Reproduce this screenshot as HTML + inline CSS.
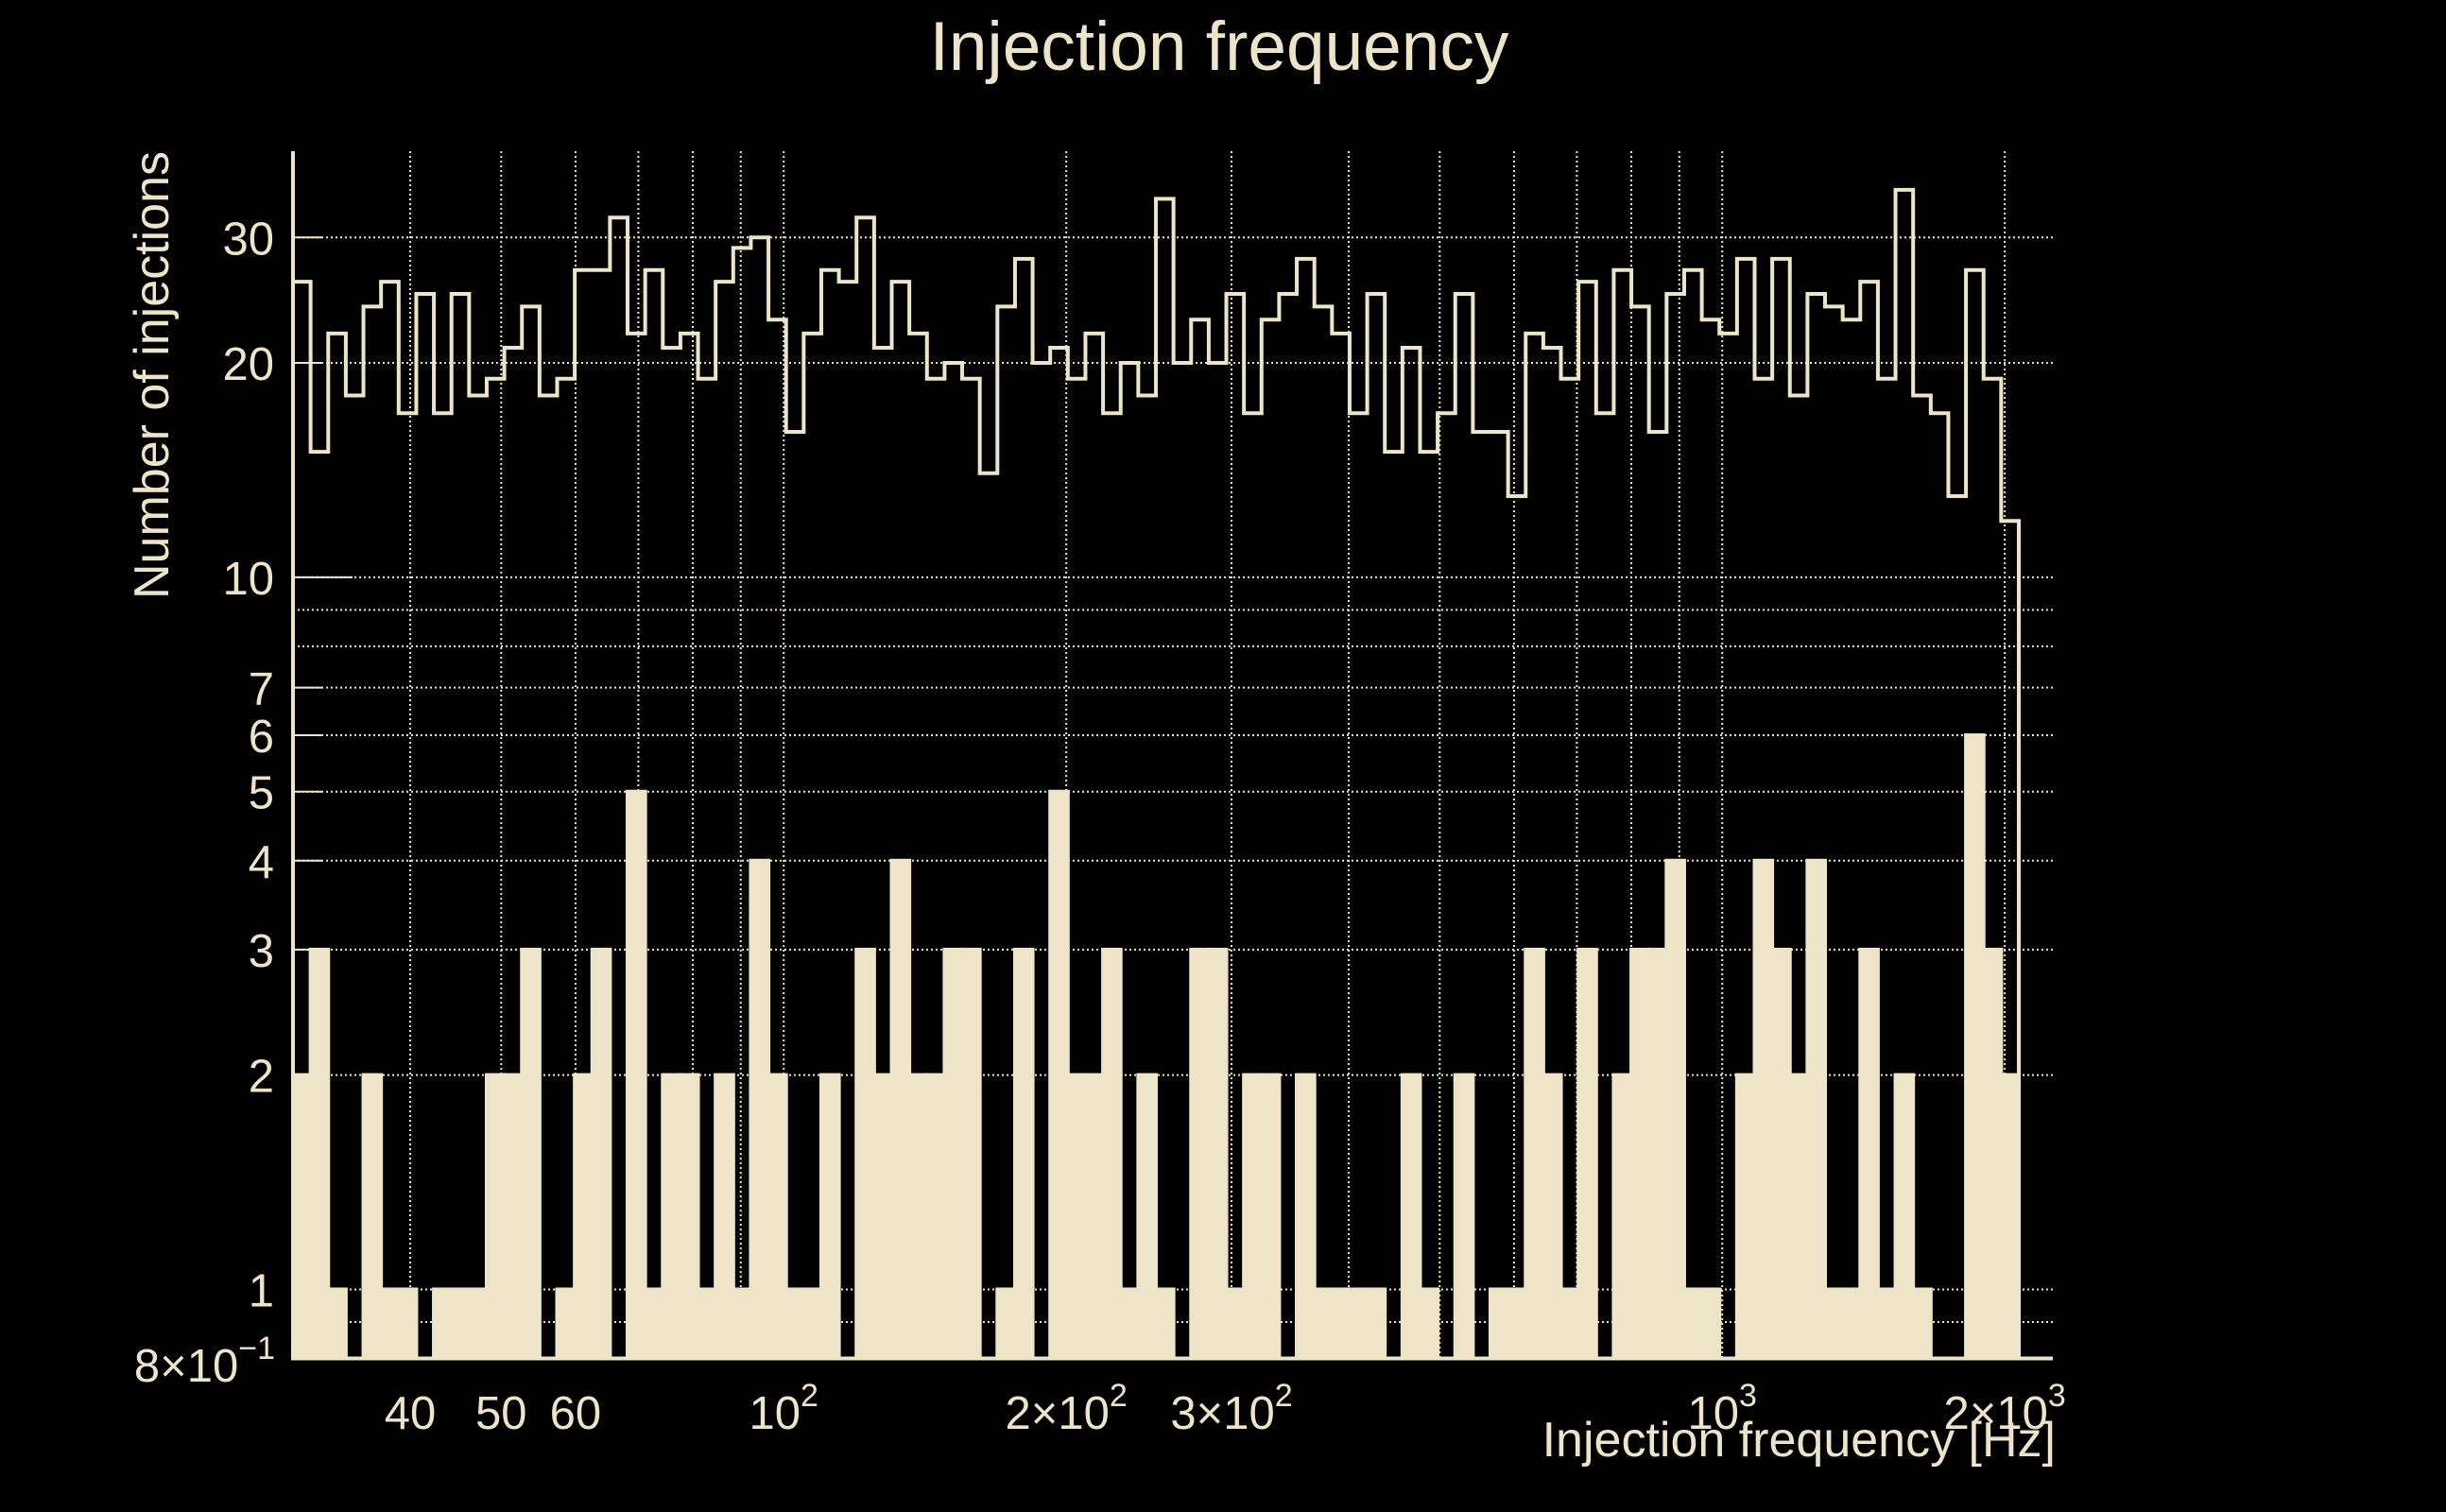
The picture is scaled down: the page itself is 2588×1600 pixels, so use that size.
<!DOCTYPE html>
<html><head><meta charset="utf-8"><style>
html,body{margin:0;padding:0;background:#000;}
svg{display:block;}
text{font-family:"Liberation Sans",sans-serif;fill:#eee4c8;}
</style></head><body>
<svg id="chart" width="2588" height="1600" viewBox="0 0 2588 1600" xmlns="http://www.w3.org/2000/svg">
<rect x="0" y="0" width="2588" height="1600" fill="#000"/>
<g id="grid"></g>
<g id="bars"></g>
<g id="outline"></g>
<g id="axes"></g>
<text x="1290" y="74" font-size="73" text-anchor="middle">Injection frequency</text>
<text x="2175" y="1541" font-size="52" text-anchor="end">Injection frequency [Hz]</text>
<text x="0" y="0" font-size="52" text-anchor="end" transform="translate(178,160) rotate(-90)">Number of injections</text>
</svg>
<script>
const totalCounts = [26,15,22,18,24,26,17,25,17,25,18,19,21,24,18,19,27,27,32,22,27,21,22,19,26,29,
30,23,16,22,27,26,32,21,26,22,19,20,19,14,24,28,20,21,19,22,17,20,18,34,20,23,
20,25,17,23,25,28,24,22,17,25,15,21,15,17,25,16,16,13,22,21,19,26,17,27,24,16,
25,27,23,22,28,19,28,18,25,24,23,26,19,35,18,17,13,27,19,12];
const subsetCounts = [2,3,1,0,2,1,1,0,1,1,1,2,2,3,0,1,2,3,0,5,1,2,2,1,2,1,
4,2,1,1,2,0,3,2,4,2,2,3,3,0,1,3,0,5,2,2,3,1,2,1,0,3,
3,1,2,2,0,2,1,1,1,1,0,2,1,0,2,0,1,1,3,2,1,3,0,2,3,3,
4,1,1,0,2,4,3,2,4,1,1,3,1,2,1,0,0,6,3,2];
const binRange = [30, 2070];
const yTickValues = [1,2,3,4,5,6,7,10,20,30];
const yTickLabels = ["1","2","3","4","5","6","7","10","20","30"];
const yGridValues = [0.9,1,2,3,4,5,6,7,8,9,10,20,30];
const xGridValues = [40,50,60,70,80,90,100,200,300,400,500,600,700,800,900,1000,2000];
const xTickValues = [40,50,60,100,200,300,1000,2000];
const xTickMant = ["40","50","60","","2×","3×","","2×"];
const xTickExp = ["","","","2","2","2","3","3"];

const NS="http://www.w3.org/2000/svg";
const C="#eee4c8";
const L=310,R=2172,T=160,B=1437.5;
const X0=Math.log10(30),XD=993,XP0=310;
function xs(v){return XP0+(Math.log10(v)-X0)*XD;}
const YD=753.6;
function ys(v){return B-(Math.log10(v)-Math.log10(0.8))*YD;}
function mk(tag,attrs,parent){const e=document.createElementNS(NS,tag);for(const k in attrs)e.setAttribute(k,attrs[k]);parent.appendChild(e);return e;}

const grid=document.getElementById('grid');
xGridValues.forEach(v=>{
  const l=mk('line',{x1:xs(v),x2:xs(v),y1:T,y2:B,stroke:C,'stroke-width':2,'stroke-dasharray':'2 3'},grid);
  
  
});
yGridValues.forEach(v=>{
  const l=mk('line',{x1:L,x2:R,y1:ys(v),y2:ys(v),stroke:C,'stroke-width':2,'stroke-dasharray':'2 3'},grid);
  
  
});

const n=totalCounts.length;
const lb0=Math.log10(binRange[0]),lb1=Math.log10(binRange[1]);
function edge(i){return Math.pow(10,lb0+i*(lb1-lb0)/n);}

const bars=document.getElementById('bars');
subsetCounts.forEach((c,i)=>{
  if(c<=0)return;
  const x1=xs(edge(i)),x2=xs(edge(i+1)),y=ys(c);
  const r=mk('rect',{x:x1,y:y,width:x2-x1,height:B-y,fill:C,stroke:C,'stroke-width':4},bars);
  
  
});

const outline=document.getElementById('outline');
let d='M'+xs(edge(0))+','+B;
totalCounts.forEach((c,i)=>{
  const y=ys(c);
  d+=' L'+xs(edge(i))+','+y+' L'+xs(edge(i+1))+','+y;
});
d+=' L'+xs(edge(n))+','+B;
const p=mk('path',{d:d,fill:'none',stroke:C,'stroke-width':4,'stroke-linejoin':'miter'},outline);



const axes=document.getElementById('axes');
const ya=mk('line',{x1:L,x2:L,y1:T,y2:B+1,stroke:C,'stroke-width':4},axes);


const xa=mk('line',{x1:L,x2:R,y1:B,y2:B,stroke:C,'stroke-width':4},axes);



yTickValues.forEach((v,i)=>{
  const y=ys(v);
  const len=(v===10)?63:31;
  const tk=mk('line',{x1:L,x2:L+len,y1:y,y2:y,stroke:C,'stroke-width':2},axes);
  
  
  const t=mk('text',{x:290,y:y+18,'font-size':49,'text-anchor':'end'},axes);
  t.textContent=yTickLabels[i];
  
  
});
const bl=mk('text',{x:291,y:1462,'font-size':49,'text-anchor':'end'},axes);


const s1=mk('tspan',{},bl);s1.textContent='8×10';
const s2=mk('tspan',{'font-size':34,dy:-24},bl);s2.textContent='−1';

xTickValues.forEach((v,i)=>{
  const t=mk('text',{x:xs(v),y:1512,'font-size':49,'text-anchor':'middle'},axes);
  
  
  if(xTickExp[i]===''){t.textContent=xTickMant[i];}
  else{
    const a=mk('tspan',{},t);a.textContent=xTickMant[i]+'10';
    const b=mk('tspan',{'font-size':34,dy:-24},t);b.textContent=xTickExp[i];
  }
});
</script>
</body></html>
